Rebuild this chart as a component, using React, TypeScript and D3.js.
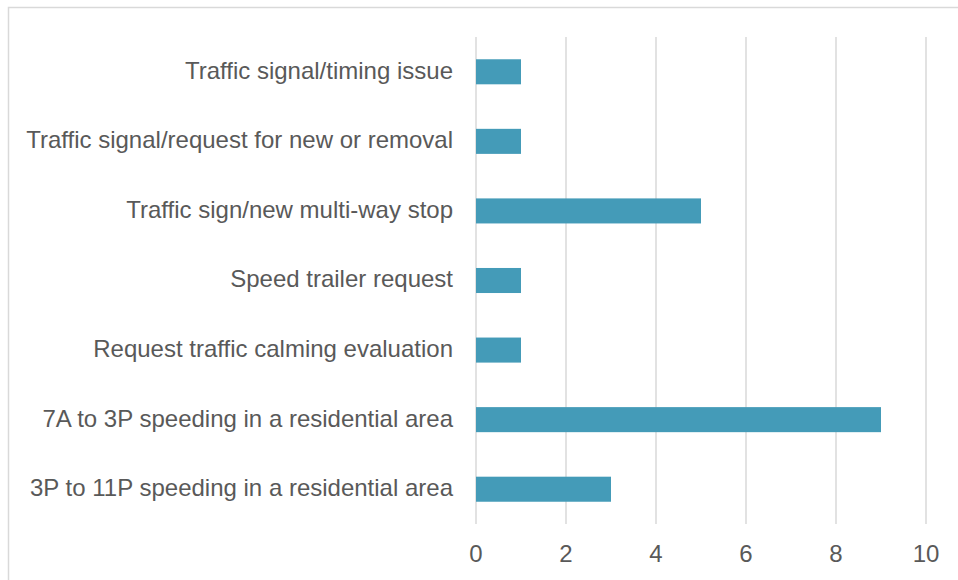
import React from 'react';
import * as d3 from 'd3';

const categories = [
    'Traffic signal/timing issue',
    'Traffic signal/request for new or removal',
    'Traffic sign/new multi-way stop',
    'Speed trailer request',
    'Request traffic calming evaluation',
    '7A to 3P speeding in a residential area',
    '3P to 11P speeding in a residential area',
];
const counts = [1, 1, 5, 1, 1, 9, 3];
const ticks = [0, 2, 4, 6, 8, 10];

const App: React.FC = () => {
    const width = 958;
    const height = 580;
    const font = '"Liberation Sans", Arial, sans-serif';

    const x = d3.scaleLinear().domain([0, 10]).range([476, 926]);
    const y = d3.scaleBand<string>()
        .domain(categories)
        .range([37, 524])
        .paddingInner(0.64)
        .paddingOuter(0.32);

    return (
        <svg width={width} height={height} style={{ position: 'absolute', left: 0, top: 0 }}>
            <rect x={8.5} y={7.5} width={980} height={600} fill="#fff" stroke="#d9d9d9" strokeWidth={1.5} />
            {ticks.map(t => (
                <line key={t} x1={x(t)} x2={x(t)} y1={37} y2={524} stroke="#d9d9d9" strokeWidth={1.5} />
            ))}
            {categories.map((c, i) => (
                <rect
                    key={c}
                    x={x(0)}
                    y={y(c)}
                    width={x(counts[i]) - x(0)}
                    height={y.bandwidth()}
                    fill="#449bb8"
                />
            ))}
            {categories.map(c => (
                <text
                    key={c}
                    x={453}
                    y={(y(c) || 0) + y.bandwidth() / 2}
                    dy="0.29em"
                    textAnchor="end"
                    fontFamily={font}
                    fontSize={24}
                    fill="#595959"
                >
                    {c}
                </text>
            ))}
            {ticks.map(t => (
                <text
                    key={t}
                    x={x(t)}
                    y={553}
                    dy="0.36em"
                    textAnchor="middle"
                    fontFamily={font}
                    fontSize={24}
                    fill="#595959"
                >
                    {t}
                </text>
            ))}
        </svg>
    );
};

export default App;
